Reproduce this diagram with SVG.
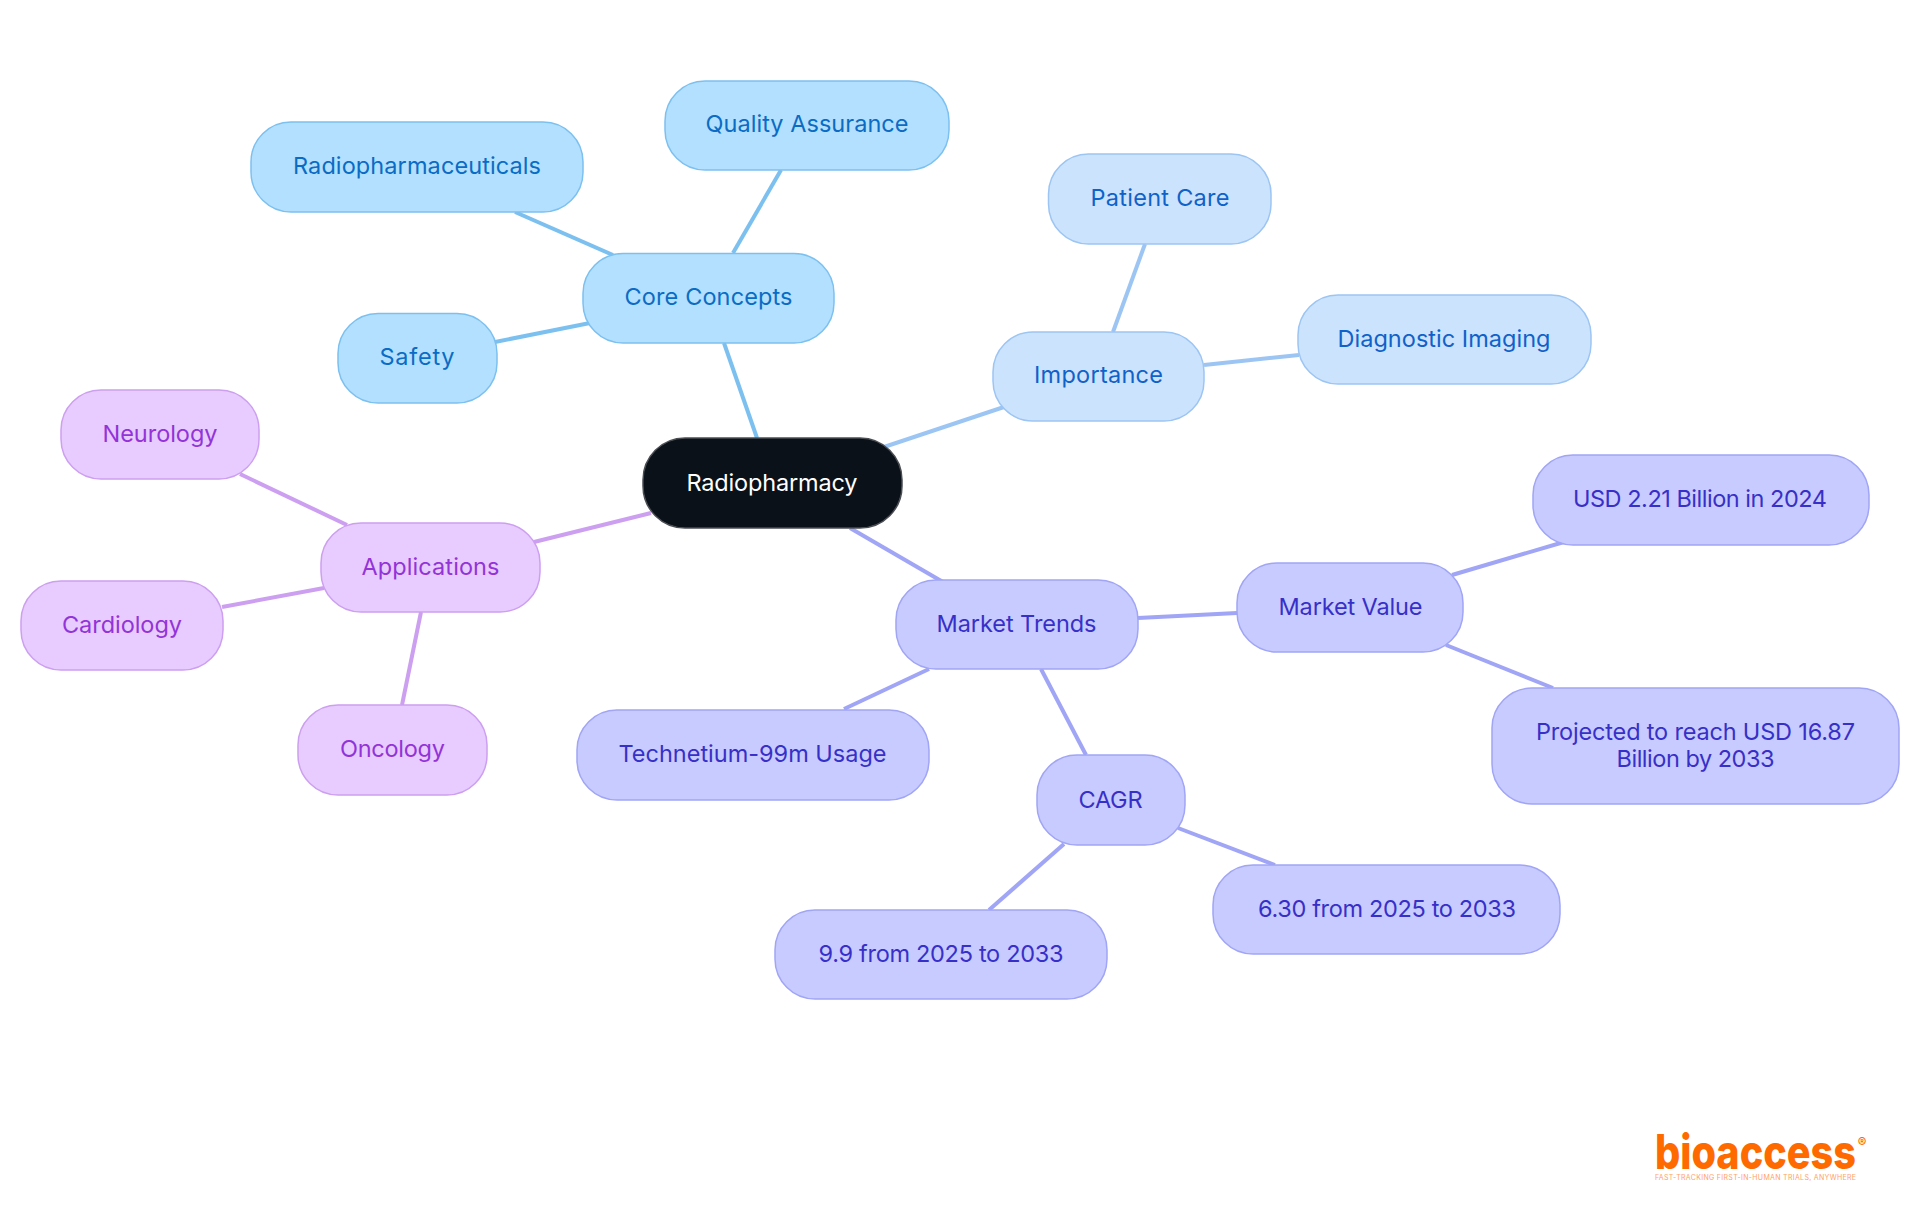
<svg xmlns="http://www.w3.org/2000/svg" width="1920" height="1215" viewBox="0 0 1920 1215">
<style>
text{font-family:"Inter","Liberation Sans",sans-serif;font-size:23.5px;text-anchor:middle;dominant-baseline:central;font-weight:400}
.n{stroke-width:1.5}
.c line{stroke-width:4;fill:none}
.root rect{fill:#0a1119;stroke:#4a4e53}.root text{fill:#fff}
.a rect{fill:#b3e0ff;stroke:#7cc0f0}.a text{fill:#0a6cc4}
.b rect{fill:#cce3fd;stroke:#9cc5f3}.b text{fill:#0f62c9}
.d rect{fill:#c8cbff;stroke:#a0a5f5}.d text{fill:#3730c8}
.e rect{fill:#e8ccff;stroke:#cd9ff0}.e text{fill:#9333d8}
.ca{stroke:#7cc0f0}.cb{stroke:#9cc5f3}.cd{stroke:#a0a5f5}.ce{stroke:#cd9ff0}
#logo text{font-family:"Inter",sans-serif;fill:#ff6a00;dominant-baseline:auto}
</style>
<rect width="1920" height="1215" fill="#fff"/>
<g id="connectors" class="c">
<line class="ca" x1="724" y1="343" x2="757" y2="438"/>
<line class="cb" x1="884" y1="447" x2="1007" y2="406"/>
<line class="cd" x1="850" y1="528" x2="943" y2="582"/>
<line class="ce" x1="651" y1="513" x2="534" y2="542"/>
<line class="ca" x1="733" y1="253" x2="781" y2="170"/>
<line class="ca" x1="613" y1="255" x2="515" y2="212"/>
<line class="ca" x1="590" y1="323" x2="495" y2="342"/>
<line class="cb" x1="1113" y1="332" x2="1145" y2="244"/>
<line class="cb" x1="1204" y1="365" x2="1299" y2="355"/>
<line class="ce" x1="347" y1="525" x2="240" y2="474"/>
<line class="ce" x1="324" y1="588" x2="222" y2="607"/>
<line class="ce" x1="421" y1="612" x2="402" y2="705"/>
<line class="cd" x1="1138" y1="618" x2="1237" y2="613"/>
<line class="cd" x1="1452" y1="575" x2="1564" y2="542"/>
<line class="cd" x1="1446" y1="645" x2="1553" y2="688"/>
<line class="cd" x1="929" y1="669" x2="844" y2="709"/>
<line class="cd" x1="1041" y1="669" x2="1086" y2="755"/>
<line class="cd" x1="1178" y1="828" x2="1275" y2="865"/>
<line class="cd" x1="1064" y1="844" x2="989" y2="910"/>
</g>
<g id="root" class="root"><rect class="n" x="643" y="438" width="259" height="90" rx="42"/><text x="772" y="482" textLength="171">Radiopharmacy</text></g>
<g id="core" class="a"><rect class="n" x="583" y="253.500" width="251" height="89.500" rx="40"/><text x="708.500" y="296" textLength="168">Core Concepts</text></g>
<g id="qa" class="a"><rect class="n" x="665" y="81" width="284" height="89" rx="40"/><text x="807" y="123" textLength="203">Quality Assurance</text></g>
<g id="radio" class="a"><rect class="n" x="251" y="122" width="332" height="90" rx="40"/><text x="417" y="165" textLength="248">Radiopharmaceuticals</text></g>
<g id="safety" class="a"><rect class="n" x="338" y="313.500" width="159" height="89.500" rx="40"/><text x="417" y="356.500" textLength="75">Safety</text></g>
<g id="importance" class="b"><rect class="n" x="993" y="332" width="211" height="89" rx="40"/><text x="1098.500" y="374" textLength="129">Importance</text></g>
<g id="patient" class="b"><rect class="n" x="1048.500" y="154" width="222.500" height="90" rx="40"/><text x="1160" y="197" textLength="139">Patient Care</text></g>
<g id="diag" class="b"><rect class="n" x="1298" y="295" width="293" height="89" rx="40"/><text x="1444" y="338" textLength="213">Diagnostic Imaging</text></g>
<g id="apps" class="e"><rect class="n" x="321" y="523" width="219" height="89" rx="40"/><text x="430.500" y="566" textLength="138">Applications</text></g>
<g id="neuro" class="e"><rect class="n" x="61" y="390" width="198" height="89" rx="40"/><text x="160" y="433" textLength="115">Neurology</text></g>
<g id="cardio" class="e"><rect class="n" x="21" y="581" width="202" height="89" rx="40"/><text x="122" y="624" textLength="120">Cardiology</text></g>
<g id="onco" class="e"><rect class="n" x="298" y="705" width="189" height="90" rx="40"/><text x="392.500" y="748" textLength="105">Oncology</text></g>
<g id="market" class="d"><rect class="n" x="896" y="580" width="242" height="89" rx="40"/><text x="1016.500" y="623" textLength="160">Market Trends</text></g>
<g id="value" class="d"><rect class="n" x="1237" y="563" width="226" height="89" rx="40"/><text x="1350.500" y="606" textLength="144">Market Value</text></g>
<g id="usd" class="d"><rect class="n" x="1533" y="455" width="336" height="90" rx="40"/><text x="1700" y="498" textLength="254">USD 2.21 Billion in 2024</text></g>
<g id="proj" class="d"><rect class="n" x="1492" y="688" width="407" height="116" rx="40"/><text x="1695.500" y="731" textLength="319">Projected to reach USD 16.87</text><text x="1695.500" y="758" textLength="158">Billion by 2033</text></g>
<g id="tech" class="d"><rect class="n" x="577" y="710" width="352" height="90" rx="40"/><text x="752.500" y="753" textLength="268">Technetium-99m Usage</text></g>
<g id="cagr" class="d"><rect class="n" x="1037" y="755" width="148" height="90" rx="40"/><text x="1110.500" y="799" textLength="64">CAGR</text></g>
<g id="c630" class="d"><rect class="n" x="1213" y="865" width="347" height="89" rx="40"/><text x="1387" y="908" textLength="258">6.30 from 2025 to 2033</text></g>
<g id="c99" class="d"><rect class="n" x="775" y="910" width="332" height="89" rx="40"/><text x="941" y="953" textLength="245">9.9 from 2025 to 2033</text></g>
<g id="logo">
<text x="1755.500" y="1169" textLength="201" lengthAdjust="spacingAndGlyphs" style="font-weight:800;font-size:48px">bioaccess</text>
<text x="1862" y="1147" style="font-weight:600;font-size:13px">®</text>
<text x="1755.500" y="1180" textLength="201" style="font-size:7px;fill:#ffa266">FAST-TRACKING FIRST-IN-HUMAN TRIALS, ANYWHERE</text>
</g>
</svg>
